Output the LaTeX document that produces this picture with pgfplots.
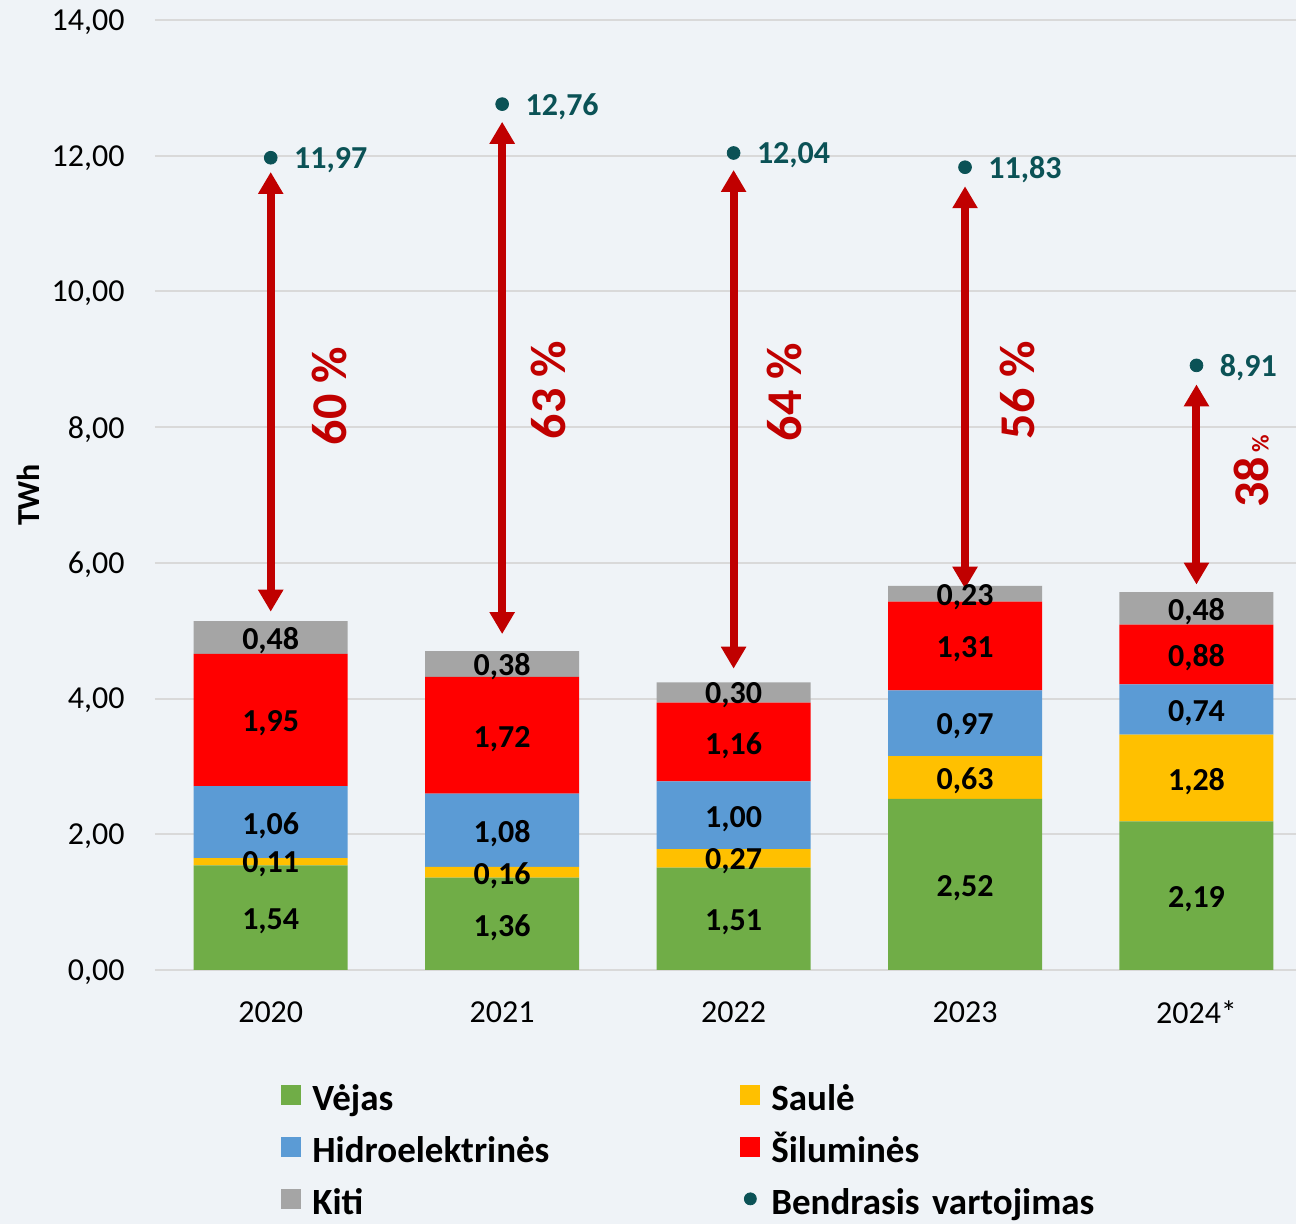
\documentclass[border=0pt]{standalone}
\usepackage{pgfplots}
\pgfplotsset{compat=1.18}
\usepackage{fontspec}
\setmainfont{Carlito}
\usetikzlibrary{arrows.meta}
\definecolor{bg}{RGB}{239,243,247}
\definecolor{cgreen}{RGB}{112,173,71}
\definecolor{cyellow}{RGB}{255,192,0}
\definecolor{cblue}{RGB}{91,155,213}
\definecolor{cred}{RGB}{255,0,0}
\definecolor{cgray}{RGB}{165,165,165}
\definecolor{dred}{RGB}{192,0,0}
\definecolor{tealx}{RGB}{11,82,86}
\definecolor{gridc}{RGB}{217,217,217}
\newcommand{\fs}[1]{\fontsize{#1}{#1}\selectfont}
\begin{document}
\begin{tikzpicture}
\path[use as bounding box, fill=bg] (-77.5pt,-127pt) rectangle (570.5pt,485pt);
\pgfplotsset{common/.style={scale only axis, width=570.5pt, height=475pt,
  xmin=-0.5, xmax=4.43, ymin=0, ymax=14, clip=false}}
\begin{axis}[common, ybar stacked, bar width=77pt,
  axis line style={draw=none}, tick style={draw=none},
  ymajorgrids, grid style={gridc, line width=1pt},
  ytick={0,2,...,14}, xtick={0,1,2,3,4},
  xticklabels={2020,2021,2022,2023,2024*},
  xticklabel style={font=\fs{16}, anchor=center, inner sep=0pt, yshift=-21pt, text depth=0pt},
  yticklabel style={font=\fs{16}, anchor=east, inner sep=0pt, xshift=-15pt, text depth=0pt,
    /pgf/number format/fixed, /pgf/number format/fixed zerofill,
    /pgf/number format/precision=2, /pgf/number format/use comma,
    /pgf/number format/assume math mode=true},
  ylabel={TWh},
  every axis y label/.style={at={(axis description cs:0,0.5)}, xshift=-63.5pt, rotate=90, anchor=center, font=\bfseries\fs{16}},
  legend columns=2, legend cell align=left,
  legend style={draw=none, fill=none, at={(0.1104,-0.1205)}, anchor=north west,
    inner sep=0pt, column sep=5.5pt, row sep=11pt, font=\bfseries\fs{18.5},
    nodes={text width=208.5pt, text height=13pt, text depth=2pt, inner sep=0pt, align=left}},
]
\addplot[fill=cgreen, draw=none, legend image code/.code={\fill[cgreen] (0pt,-2.5pt) rectangle (10pt,7.5pt);}]
  coordinates {(0,1.54) (1,1.36) (2,1.51) (3,2.52) (4,2.19)};
\addplot[fill=cyellow, draw=none, legend image code/.code={\fill[cyellow] (0pt,-2.5pt) rectangle (10pt,7.5pt);}]
  coordinates {(0,0.11) (1,0.16) (2,0.27) (3,0.63) (4,1.28)};
\addplot[fill=cblue, draw=none, legend image code/.code={\fill[cblue] (0pt,-2.5pt) rectangle (10pt,7.5pt);}]
  coordinates {(0,1.06) (1,1.08) (2,1.00) (3,0.97) (4,0.74)};
\addplot[fill=cred, draw=none, legend image code/.code={\fill[cred] (0pt,-2.5pt) rectangle (10pt,7.5pt);}]
  coordinates {(0,1.95) (1,1.72) (2,1.16) (3,1.31) (4,0.88)};
\addplot[fill=cgray, draw=none, legend image code/.code={\fill[cgray] (0pt,-2.5pt) rectangle (10pt,7.5pt);}]
  coordinates {(0,0.48) (1,0.38) (2,0.30) (3,0.23) (4,0.48)};
\addlegendimage{legend image code/.code={\fill[tealx] (5pt,2.5pt) circle (3pt);}}
\legend{Vėjas, Saulė, Hidroelektrinės, Šiluminės, Kiti, Bendrasis vartojimas}
\end{axis}
\begin{axis}[common, hide axis]
% arrows
\addplot[dred, line width=4pt, {Triangle[width=12pt,length=11pt]}-{Triangle[width=12pt,length=11pt]}] coordinates {(0,11.76) (0,5.28)};
\addplot[dred, line width=4pt, {Triangle[width=12pt,length=11pt]}-{Triangle[width=12pt,length=11pt]}] coordinates {(1,12.50) (1,4.95)};
\addplot[dred, line width=4pt, {Triangle[width=12pt,length=11pt]}-{Triangle[width=12pt,length=11pt]}] coordinates {(2,11.79) (2,4.44)};
\addplot[dred, line width=4pt, {Triangle[width=12pt,length=11pt]}-{Triangle[width=12pt,length=11pt]}] coordinates {(3,11.55) (3,5.62)};
\addplot[dred, line width=4pt, {Triangle[width=12pt,length=11pt]}-{Triangle[width=12pt,length=11pt]}] coordinates {(4,8.63) (4,5.68)};
% totals
\addplot[only marks, mark=*, mark size=3.2pt, tealx, nodes near coords, point meta=explicit symbolic,
  every node near coord/.append style={anchor=west, xshift=11.5pt, inner sep=0pt, text depth=0pt, font=\bfseries\fs{16}, tealx}]
  table[meta=lab] {
x y lab
0 11.97 11,97
1 12.76 12,76
2 12.04 12,04
3 11.83 11,83
4 8.91 8,91
};
% segment labels
\addplot[draw=none, mark=none, nodes near coords, point meta=explicit symbolic,
  every node near coord/.append style={anchor=center, inner sep=0pt, text depth=0pt, font=\bfseries\fs{16}, black}]
  table[meta=lab] {
x y lab
0 0.75 1,54
0 1.59 0,11
0 2.16 1,06
0 3.67 1,95
0 4.89 0,48
1 0.66 1,36
1 1.42 0,16
1 2.04 1,08
1 3.44 1,72
1 4.50 0,38
2 0.74 1,51
2 1.63 0,27
2 2.26 1,00
2 3.34 1,16
2 4.08 0,30
3 1.24 2,52
3 2.82 0,63
3 3.62 0,97
3 4.76 1,31
3 5.53 0,23
4 1.075 2,19
4 2.81 1,28
4 3.82 0,74
4 4.63 0,88
4 5.31 0,48
};
\node[rotate=90, dred, font=\bfseries\fs{25}] at (axis cs:0.255,8.46) {60 \%};
\node[rotate=90, dred, font=\bfseries\fs{25}] at (axis cs:1.2,8.55) {63 \%};
\node[rotate=90, dred, font=\bfseries\fs{25}] at (axis cs:2.22,8.52) {64 \%};
\node[rotate=90, dred, font=\bfseries\fs{25}] at (axis cs:3.225,8.55) {56 \%};
\node[rotate=90, dred, font=\bfseries] at (axis cs:4.238,7.35) {{\fs{25}38} {\fs{12}\%}};
\end{axis}
\end{tikzpicture}
\end{document}
